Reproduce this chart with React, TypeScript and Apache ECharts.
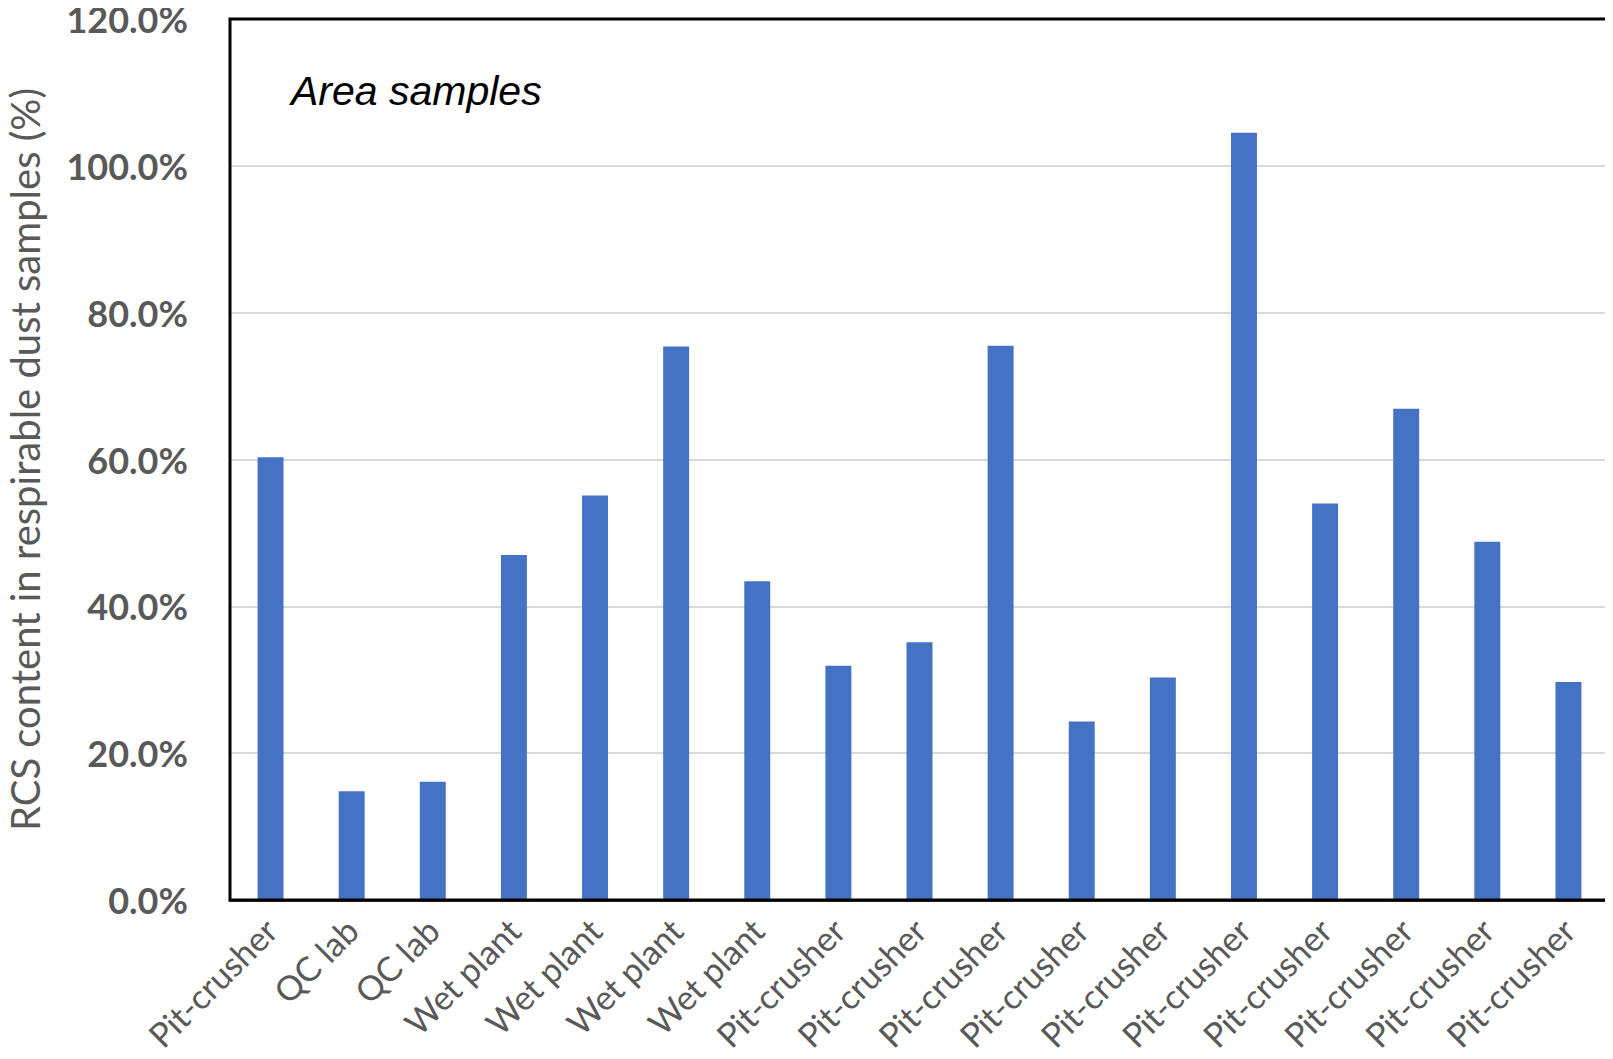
import React, { useEffect, useRef } from "react";
import * as echarts from "echarts";

// Sampling locations, in sample order
const categories = [
  "Pit-crusher", "QC lab", "QC lab", "Wet plant", "Wet plant", "Wet plant", "Wet plant",
  "Pit-crusher", "Pit-crusher", "Pit-crusher", "Pit-crusher", "Pit-crusher", "Pit-crusher",
  "Pit-crusher", "Pit-crusher", "Pit-crusher", "Pit-crusher",
];

// RCS content of each area sample (%)
const rcsContent = [
  60.3, 14.8, 16.1, 47.0, 55.1, 75.4, 43.4, 31.9, 35.1, 75.5, 24.3, 30.3, 104.5, 54.0, 66.9, 48.8, 29.7,
];

const yMin = 0;
const yMax = 120;
const yStep = 20;

const W = 1613;
const H = 1059;
const G = { left: 230, right: 4, top: 19, bottom: 159 };

const grey = "#595959";
const labelFont = "Lato, 'Open Sans', sans-serif";

export default function App() {
  const ref = useRef<HTMLDivElement>(null);

  useEffect(() => {
    if (!ref.current) return;
    const chart = echarts.init(ref.current, undefined, { renderer: "svg" });
    chart.setOption({
      animation: false,
      backgroundColor: "#ffffff",
      grid: {
        ...G,
        outerBoundsMode: "none",
        containLabel: false,
      },
      graphic: [
        {
          type: "text",
          left: 291,
          top: 70,
          style: {
            text: "Area samples",
            font: "italic 41px 'Liberation Sans', Arial, sans-serif",
            fill: "#000000",
          },
        },
        {
          // plot frame drawn above the grid lines
          type: "rect",
          z: 100,
          shape: {
            x: G.left,
            y: G.top,
            width: W - G.left - G.right,
            height: H - G.top - G.bottom,
          },
          style: { fill: "none", stroke: "#000000", lineWidth: 3 },
        },
      ],
      xAxis: {
        type: "category",
        data: categories,
        axisLine: { show: true, lineStyle: { color: "#404040", width: 3 } },
        axisTick: { show: false },
        axisLabel: {
          interval: 0,
          rotate: 45,
          margin: 24,
          color: grey,
          fontSize: 34,
          fontFamily: labelFont,
        },
      },
      yAxis: {
        type: "value",
        min: yMin,
        max: yMax,
        interval: yStep,
        name: "RCS content in respirable dust samples (%)",
        nameLocation: "middle",
        nameGap: 185,
        nameTextStyle: {
          color: grey,
          fontSize: 40,
          fontFamily: labelFont,
        },
        axisLine: { show: false },
        axisTick: { show: false },
        splitLine: { lineStyle: { color: "#d9d9d9", width: 2 } },
        axisLabel: {
          margin: 42,
          color: grey,
          fontSize: 36,
          lineHeight: 32,
          fontWeight: "bold",
          fontFamily: labelFont,
          formatter: (v: number) => v.toFixed(1) + "%",
        },
      },
      series: [
        {
          type: "bar",
          data: rcsContent,
          barWidth: "32%",
          itemStyle: { color: "#4472c4" },
        },
      ],
    });
    return () => chart.dispose();
  }, []);

  return <div ref={ref} style={{ width: W, height: H, margin: -8 }} />;
}
